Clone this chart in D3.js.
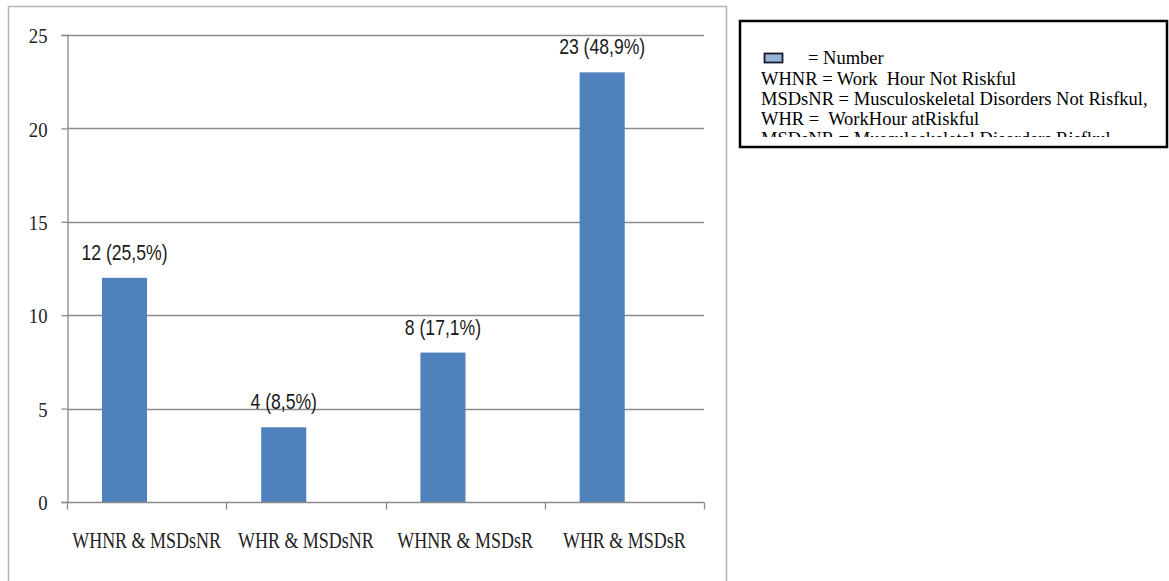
<!DOCTYPE html>
<html>
<head>
<meta charset="utf-8">
<script src="https://cdn.jsdelivr.net/npm/d3@7"></script>
<style>
  html, body { margin: 0; padding: 0; background: #fff; }
  svg { display: block; }
</style>
</head>
<body>
<svg id="chart" width="1169" height="581"></svg>
<script>
const categories = ["WHNR & MSDsNR", "WHR & MSDsNR", "WHNR & MSDsR", "WHR & MSDsR"];
const values = [12, 4, 8, 23];
const valueLabels = ["12 (25,5%)", "4 (8,5%)", "8 (17,1%)", "23 (48,9%)"];
const yTicks = [0, 5, 10, 15, 20, 25];
const legendSwatchLabel = "= Number";
const legendLines = [
  "WHNR = Work  Hour Not Riskful",
  "MSDsNR = Musculoskeletal Disorders Not Risfkul,",
  "WHR =  WorkHour atRiskful",
  "MSDsNR = Musculoskeletal Disorders Risfkul"
];

const svg = d3.select("#chart");
const barColor = "#4f81bd";
const gridColor = "#8a8a8a";

// outer chart frame
svg.append("rect").attr("x", 8.5).attr("y", 6.5).attr("width", 718).attr("height", 600)
  .attr("fill", "#fff").attr("stroke", "#b4b4b4").attr("stroke-width", 1.5);

const plot = { left: 67, right: 704, top: 35, bottom: 502 };

const y = d3.scaleLinear().domain([0, 25]).range([plot.bottom, plot.top]);
const xCat = d3.scaleBand().domain(categories).range([plot.left, plot.right]).padding(0);
const xBar = d3.scaleBand().domain(categories).range([plot.left, plot.right])
  .paddingInner(0.717).paddingOuter(0.3587).align(0.306);

// gridlines
svg.append("g").selectAll("line").data(yTicks.filter(d => d > 0)).join("line")
  .attr("x1", plot.left).attr("x2", plot.right)
  .attr("y1", d => Math.round(y(d)) + 0.5).attr("y2", d => Math.round(y(d)) + 0.5)
  .attr("stroke", gridColor).attr("stroke-width", 1.3);

// y axis
const yAxis = svg.append("g").attr("transform", `translate(${plot.left + 0.5},0)`)
  .call(d3.axisLeft(y).tickValues(yTicks).tickSize(6).tickPadding(14));
yAxis.select(".domain").attr("stroke", gridColor).attr("stroke-width", 1.3);
yAxis.selectAll(".tick line").attr("stroke", gridColor).attr("stroke-width", 1.3);
yAxis.selectAll(".tick text")
  .attr("font-family", "'Liberation Serif', 'DejaVu Serif', serif")
  .attr("font-size", 22).attr("fill", "#222")
  .attr("dy", "0.35em")
  .each(function() {
    const t = d3.select(this);
    const xx = +t.attr("x");
    t.attr("x", null).attr("transform", `translate(${xx},0) scale(0.85,1)`);
  });

// bars
svg.append("g").selectAll("rect").data(values).join("rect")
  .attr("x", (d, i) => xBar(categories[i]))
  .attr("width", xBar.bandwidth())
  .attr("y", d => y(d))
  .attr("height", d => y(0) - y(d))
  .attr("fill", barColor);

// x axis
const xAxis = svg.append("g").attr("transform", `translate(0,${plot.bottom + 0.5})`);
xAxis.append("line").attr("x1", plot.left).attr("x2", plot.right)
  .attr("stroke", gridColor).attr("stroke-width", 1.3);
const bounds = categories.map(c => xCat(c)).concat([plot.right]);
xAxis.selectAll("line.tk").data(bounds).join("line").attr("class", "tk")
  .attr("x1", d => Math.round(d) + 0.5).attr("x2", d => Math.round(d) + 0.5)
  .attr("y1", 0).attr("y2", 7).attr("stroke", gridColor).attr("stroke-width", 1.3);
xAxis.selectAll("text").data(categories).join("text")
  .attr("transform", d => `translate(${xCat(d) + xCat.bandwidth() / 2},45) scale(0.8,1)`)
  .attr("text-anchor", "middle")
  .attr("font-family", "'Liberation Serif', 'DejaVu Serif', serif")
  .attr("font-size", 22.5).attr("fill", "#222")
  .text(d => d);

// value labels
svg.append("g").selectAll("text").data(values).join("text")
  .attr("transform", (d, i) => `translate(${xBar(categories[i]) + xBar.bandwidth() / 2},${y(d) - 18}) scale(0.8,1)`)
  .attr("text-anchor", "middle")
  .attr("font-family", "'Liberation Sans Narrow', 'Liberation Sans', sans-serif")
  .attr("font-size", 22).attr("fill", "#1a1a1a")
  .text((d, i) => valueLabels[i]);

// legend box
const lg = svg.append("g");
lg.append("rect").attr("x", 740).attr("y", 21).attr("width", 427).attr("height", 126)
  .attr("fill", "#fff").attr("stroke", "#000").attr("stroke-width", 2.5);
lg.append("rect").attr("x", 764.5).attr("y", 53.5).attr("width", 18).attr("height", 9)
  .attr("fill", "#95b3d7").attr("stroke", "#1a1a2a").attr("stroke-width", 1.8);
const legendFont = "'Liberation Serif', 'Times New Roman', serif";
lg.append("text").attr("x", 808).attr("y", 64).attr("font-family", legendFont)
  .attr("font-size", 18.5).attr("fill", "#000").text(legendSwatchLabel);

svg.append("defs").append("clipPath").attr("id", "legclip")
  .append("rect").attr("x", 740).attr("y", 22).attr("width", 426).attr("height", 115);

lg.append("g").attr("clip-path", "url(#legclip)")
  .selectAll("text").data(legendLines).join("text")
  .attr("x", 761).attr("y", (d, i) => 85 + i * 20)
  .attr("font-family", legendFont).attr("font-size", 18.5).attr("fill", "#000")
  .style("white-space", "pre")
  .text(d => d);
</script>
</body>
</html>
